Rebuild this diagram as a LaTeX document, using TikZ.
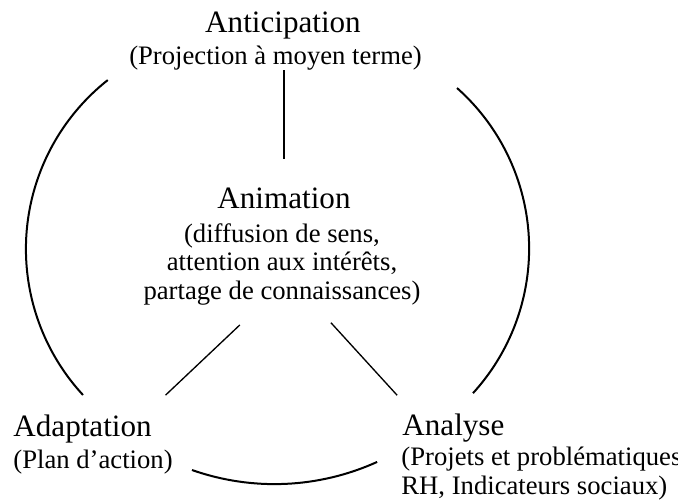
\documentclass[tikz,border=0pt]{standalone}
\usepackage{fontspec}
\setmainfont{Liberation Serif}
\begin{document}
\begin{tikzpicture}[x=0.45pt,y=-0.45pt,
  titletext/.style={inner sep=0pt,font=\fontsize{14}{16}\selectfont},
  subtext/.style={inner sep=0pt,font=\fontsize{12}{13}\selectfont},
  arcline/.style={line width=0.9pt},
  linkline/.style={line width=0.6pt}]
\useasboundingbox (0,0) rectangle (678,501);
\node[titletext,anchor=base] (antic) at (283,32.5) {Anticipation};
\node[subtext,anchor=base] (anticsub) at (275.5,64) {(Projection à moyen terme)};
\node[titletext,anchor=base] (anim) at (284,208) {Animation};
\node[subtext,anchor=base,align=center] (animsub) at (282,299.8) {(diffusion de sens,\\attention aux intérêts,\\partage de connaissances)};
\node[titletext,anchor=base west] (adapt) at (13,436) {Adaptation};
\node[subtext,anchor=base west] (adaptsub) at (13,468) {(Plan d’action)};
\node[titletext,anchor=base west] (analyse) at (402,435) {Analyse};
\node[subtext,anchor=base west,align=left] (analysesub) at (401,494.5) {(Projets et problématiques\\RH, Indicateurs sociaux)};
\draw[linkline,shorten >=12.5pt] (anticsub.south -| anim.north) -- (anim.north);
\draw[linkline,shorten <=12.4pt,shorten >=12.3pt] (animsub.242) -- (adapt.13);
\draw[linkline,shorten <=10.2pt,shorten >=10.8pt] (animsub.309) -- (analyse.160);
\draw[arcline] (83,395) arc[start angle=137.3,end angle=231.7,radius=215.3];
\draw[arcline] (457,88) arc[start angle=-48.4,end angle=42.4,radius=214.6];
\draw[arcline] (192,470) arc[start angle=109.4,end angle=65.6,radius=248.4];
\end{tikzpicture}
\end{document}
